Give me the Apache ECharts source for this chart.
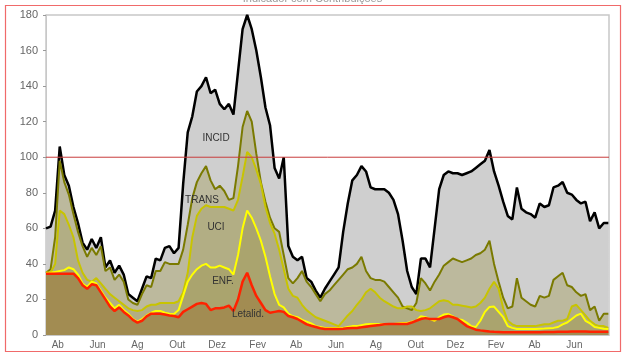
<!DOCTYPE html>
<html><head><meta charset="utf-8">
<script src="https://cdn.jsdelivr.net/npm/echarts@6/dist/echarts.min.js"></script>
<style>html,body{margin:0;padding:0;background:#fff}#c{width:625px;height:358px}</style>
</head><body><div id="c"></div>
<script>
// x = days since 2020-03-01, weekly samples
const days = Array.from({length:124},(_,i)=>13+7*i);
const monthTicks = [31,61,92,122,153,184,214,245,275,306,337,365,396,426,457,487,518,549,579,610,640,671,702,730,761,791,822,852];
const labelDays = [31,92,153,214,275,337,396,457,518,579,640,702,761,822];
const labelNames = ['Ab','Jun','Ag','Out','Dez','Fev','Ab','Jun','Ag','Out','Dez','Fev','Ab','Jun'];

const incid = [60,61,70,106,90,84,72,63,52,48,
54,49,55,38,42,35,39,34,23,21,
19,26,33,32,43,42,49,50,46,49,
85,114,123,137,140,145,136,138,130,127,
130,124,148,172,180,172,160,145,128,118,
94,88,100,50,44,42,44,32,30,25,
21,26,30,34,38,58,74,87,90,95,
92,83,82,82,82,80,76,68,53,36,
27,23,43,43,38,60,82,90,92,91,
91,90,91,92,94,96,98,104,92,84,
75,67,65,83,71,69,68,66,74,72,
73,83,84,86,80,79,76,74,75,64,
69,60,63,63];
const trans = [35,37,55,98,86,79,68,58,50,44,
49,45,50,36,38,31,34,30,20,18,
17,23,28,27,36,36,41,40,40,40,
48,62,77,86,91,95,87,82,84,81,
76,77,95,117,126,120,102,86,75,66,
60,58,45,32,29,32,36,30,27,23,
19,23,25,28,31,34,37,38,40,44,
36,32,31,31,30,27,24,21,16,15,
14,18,32,29,25,30,34,39,41,43,
42,41,42,43,45,46,48,53,40,30,
21,15,16,32,21,19,17,16,22,21,
22,31,33,35,28,27,24,22,23,14,
16,8,12,12];
const uci = [35,35,40,70,68,62,55,42,35,31,
30,32,29,26,23,21,19,17,15,14,
13.5,14,16,17,17,18,18,18,18,19,
24,35,55,67,71,73,72,72,72,72,
71,70,76,89,103,100,93,85,72,63,
57,48,37,26,22,21,17,14,12,10,
9,8,7,6,5,8,11,13.5,17,20,
24,26,24,21,19,17.5,16,15,15,16,
16,14,13.5,14,15,17,19,19.5,19,17,
17,16.5,16,15.5,16,18,21,26,30,26,
15,8,6,5,5,5,5,5,5.5,6,
6,7,8,8,9,16,17,14,11,8,
6,5,5,4];
const enf = [35,35,35.5,36,36.5,38,37,34,29,27,
30,29,25,21,18,15,17,14,12,9,
7.5,9,11,12.5,13.5,13.5,12.5,12,11.8,14,
22,30,34,37,39,40,38,38,39,38,
37,34,45,60,70,66,60,53,44,33,
23,17,15.5,12,10.5,10,8.5,7.5,6.5,5,
4.5,4,4,4,4,4,4.5,5,5,5.5,
6,6.2,6.2,6,6,6.2,6.2,6.5,6.8,6.8,
7.5,8,10.5,10,9,8,10,11.5,11.8,10.5,
9,8.5,7,5,4.5,8,13,15.8,16,13,
10,5,4,3.4,3.4,3.4,3.4,3.4,3.5,3.6,
3.8,4,4.5,6,7,9,11,12,8,6.5,
4.5,4,3.5,3.4];
const letal = [34.5,34.5,34.5,34.5,34.5,34.5,34.5,32,28,26,
28.5,28,24,20,16,13.5,15.5,13,11,8.5,
7,8,10.5,12,12,12,11.5,11,10.7,10,
13,14.5,16,17.5,18,17.5,14,15,15,15.5,
16.5,13.5,20,30,35,28,22,18,14,12.5,
13,13.5,13,10.7,10,9,7.5,6,5.2,4.5,
3.8,3.4,3.4,3.4,3.4,3.5,3.8,4,4,4.3,
4.7,5,5.3,5.6,6,6.2,6.2,6.2,6.2,6.2,
7,8,9,9.5,9,9,9,10,10.7,10,
9,7,5,4,3,2.6,2.3,2,1.8,1.7,
1.6,1.5,1.5,1.5,1.5,1.5,1.5,1.6,1.6,1.7,
1.7,1.7,1.8,1.8,1.8,1.9,2,2,1.9,1.8,
1.8,1.8,1.8,1.8];
const refLevel = 100;

const pair = arr => arr.map((v,i)=>[days[i],v]);
const chart = echarts.init(document.getElementById('c'),null,{renderer:'canvas'});
function mk(name,data,line,fill,w){
  return {name,type:'line',data:pair(data),symbol:'none',
    lineStyle:{color:line,width:w},itemStyle:{color:line},
    areaStyle:{color:fill,opacity:1},emphasis:{disabled:true}};
}
const series = [
  mk('INCID',incid,'#000000','#cfcfcf',2.5),
  mk('TRANS',trans,'#7a7a00','#bcb99d',2),
  mk('UCI',uci,'#c8c400','#b2ae84',2),
  mk('ENF.',enf,'#ffff00','#aaa46e',2),
  mk('Letalid.',letal,'#ff2200','#a28c52',2.5)
];
series.push({name:'ref',type:'line',data:[[13,refLevel],[875,refLevel]],symbol:'none',z:10,
  lineStyle:{color:'#c83c3c',width:1},itemStyle:{color:'#c83c3c'},emphasis:{disabled:true}});

const lbl = (t,x,y)=>({type:'text',x,y,z:100,style:{text:t,fill:'#333',font:'10px Liberation Sans, Arial',textAlign:'center',textVerticalAlign:'middle'}});
chart.setOption({
  animation:false,
  grid:{left:46,right:16,top:15,bottom:23,show:true,borderColor:'#c8c8c8',borderWidth:1.5,backgroundColor:'#fff'},
  xAxis:{type:'value',min:13,max:875,
    axisLine:{show:true,lineStyle:{color:'#c8c8c8'}},
    axisTick:{show:true,inside:true,length:4,customValues:monthTicks,lineStyle:{color:'#999'}},
    axisLabel:{customValues:labelDays,color:'#666',fontSize:10,fontFamily:'Liberation Sans, Arial',margin:5,
      formatter:v=>labelNames[labelDays.indexOf(v)]},
    splitLine:{show:false}},
  yAxis:{type:'value',min:0,max:180,interval:20,
    axisLine:{show:true,lineStyle:{color:'#c8c8c8'}},
    axisTick:{show:true,length:3,lineStyle:{color:'#999'}},
    axisLabel:{color:'#666',fontSize:11,fontFamily:'Liberation Sans, Arial',margin:8},
    splitLine:{show:false}},
  series,
  graphic:[
    {type:'text',left:'center',top:-7,style:{text:'Indicador com Contribuições',fill:'#999',font:'11px Liberation Sans, Arial'}},
    {type:'rect',shape:{x:5.5,y:5.5,width:615,height:346},style:{fill:'none',stroke:'#f06a6a',lineWidth:1.2},z:100},
    lbl('INCID',216,138), lbl('TRANS',202,200), lbl('UCI',216,227), lbl('ENF.',223,281), lbl('Letalid.',248,314)
  ]
});
</script></body></html>
